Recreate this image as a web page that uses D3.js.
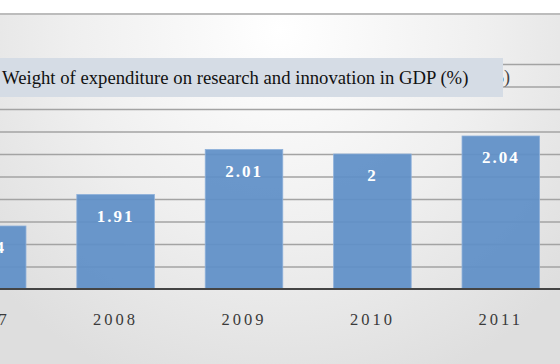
<!DOCTYPE html>
<html>
<head>
<meta charset="utf-8">
<script src="https://cdn.jsdelivr.net/npm/d3@7"></script>
<style>
  body { margin: 0; background: #fff; }
  svg { display: block; }
</style>
</head>
<body>
<div id="chart"></div>
<script>
// chart values
var years = ["2007", "2008", "2009", "2010", "2011"];
var values = [1.84, 1.91, 2.01, 2, 2.04];
var gridTicks = [1.75, 1.8, 1.85, 1.9, 1.95, 2.0, 2.05, 2.1, 2.15, 2.2];
var titleText = "Weight of expenditure on research and innovation in GDP (%)";

var W = 560, H = 364;

var svg = d3.select("#chart")
    .append("svg")
    .attr("width", W)
    .attr("height", H);

// background gradient
var defs = svg.append("defs");
var grad = defs.append("radialGradient")
    .attr("id", "bg")
    .attr("gradientUnits", "userSpaceOnUse")
    .attr("cx", 280).attr("cy", 30).attr("r", 380);
grad.append("stop").attr("offset", "0%").attr("stop-color", "#ffffff");
grad.append("stop").attr("offset", "55%").attr("stop-color", "#efefef");
grad.append("stop").attr("offset", "100%").attr("stop-color", "#dedede");

svg.append("rect")
    .attr("x", 0).attr("y", 15)
    .attr("width", W).attr("height", H - 15)
    .attr("fill", "url(#bg)");

svg.append("line")
    .attr("x1", 0).attr("x2", W)
    .attr("y1", 14).attr("y2", 14)
    .attr("stroke", "#bcbcbc")
    .attr("stroke-width", 2);

// scales (the chart is cropped on the left, so the range starts below 0)
var x = d3.scaleBand()
    .domain(years)
    .range([-77, 565])
    .paddingInner(0.396)
    .paddingOuter(0.198);

var y = d3.scaleLinear()
    .domain([1.7, 2.2])
    .range([289, 64]);

// gridlines
var grid = svg.append("g")
    .call(d3.axisLeft(y).tickValues(gridTicks).tickSize(-W).tickFormat(""));
grid.select(".domain").remove();
grid.selectAll("line")
    .attr("stroke", "#a3a3a3")
    .attr("stroke-width", 1.5);

// bars
svg.selectAll(".bar")
    .data(values)
    .enter()
    .append("rect")
    .attr("class", "bar")
    .attr("x", (d, i) => x(years[i]))
    .attr("y", d => y(d))
    .attr("width", x.bandwidth())
    .attr("height", d => y(1.7) - y(d))
    .attr("fill", "#5f8fc7")
    .attr("fill-opacity", 0.93)
    .attr("stroke", "#8db0da")
    .attr("stroke-width", 0.8);

// value labels
svg.selectAll(".val")
    .data(values)
    .enter()
    .append("text")
    .attr("class", "val")
    .attr("x", (d, i) => x(years[i]) + x.bandwidth() / 2)
    .attr("y", d => y(d) + 27)
    .attr("text-anchor", "middle")
    .style("font-family", "'Liberation Serif', 'DejaVu Serif', serif")
    .style("font-weight", "bold")
    .style("font-size", "17px")
    .style("letter-spacing", "2px")
    .style("fill", "#ffffff")
    .text(d => String(d));

// x axis
var xAxis = svg.append("g")
    .attr("transform", "translate(0,289)")
    .call(d3.axisBottom(x).tickSize(0).tickPadding(0));
xAxis.select(".domain").remove();
xAxis.selectAll("text")
    .attr("y", 36)
    .attr("dy", 0)
    .style("font-family", "'Liberation Serif', 'DejaVu Serif', serif")
    .style("font-size", "16.5px")
    .style("letter-spacing", "3px")
    .style("fill", "#3a3a3a");

svg.append("line")
    .attr("x1", 0).attr("x2", W)
    .attr("y1", 289).attr("y2", 289)
    .attr("stroke", "#444")
    .attr("stroke-width", 2);

// original chart title, mostly hidden behind the overlay box
svg.append("text")
    .attr("x", 510)
    .attr("y", 83)
    .attr("text-anchor", "end")
    .style("font-family", "'Liberation Serif', serif")
    .style("font-size", "18px")
    .style("fill", "#444")
    .text(titleText);

// overlay title box
svg.append("rect")
    .attr("x", -2).attr("y", 58)
    .attr("width", 505).attr("height", 39)
    .attr("fill", "#d5dce5");

svg.append("text")
    .attr("x", 2)
    .attr("y", 84)
    .style("font-family", "'Liberation Serif', 'Times New Roman', serif")
    .style("font-size", "18.7px")
    .style("fill", "#111")
    .text(titleText);
</script>
</body>
</html>
